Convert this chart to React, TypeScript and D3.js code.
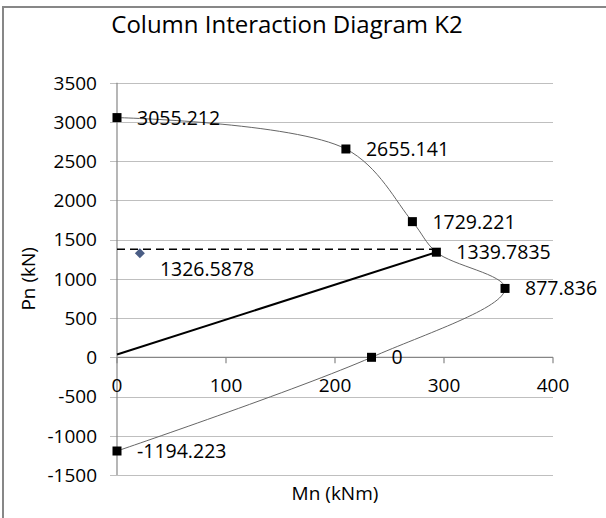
import React from 'react';
import * as d3 from 'd3';

// interaction curve points (Mn kNm, Pn kN)
const curveMn = [0, 210, 271, 293, 356, 233.5, 0];
const curvePn = [3055.212, 2655.141, 1729.221, 1339.7835, 877.836, 0, -1194.223];
const curveLabels = ['3055.212', '2655.141', '1729.221', '1339.7835', '877.836', '0', '-1194.223'];

// eccentricity line from origin area to the balance point
const loadLineMn = [0, 293];
const loadLinePn = [35, 1339.7835];

// dashed level line
const levelMn = [0, 293];
const levelPn = [1378, 1378];

// applied load point
const appliedMn = [21];
const appliedPn = [1326.5878];
const appliedLabels = ['1326.5878'];

const xTicks = [0, 100, 200, 300, 400];
const yTicks = [3500, 3000, 2500, 2000, 1500, 1000, 500, 0, -500, -1000, -1500];

const W = 606, H = 518;
const font = '"Open Sans", "Liberation Sans", sans-serif';

export default function App() {
  const x = d3.scaleLinear().domain([0, 400]).range([117, 553]);
  const y = d3.scaleLinear().domain([-1500, 3500]).range([475, 82.7]);

  const curvePts: [number, number][] = curveMn.map((m, i) => [x(m), y(curvePn[i])]);
  const smooth = d3.line().curve(d3.curveCatmullRom.alpha(0.5))(curvePts) || '';
  const loadLine = d3.line()(loadLineMn.map((m, i) => [x(m), y(loadLinePn[i])] as [number, number])) || '';
  const levelLine = d3.line()(levelMn.map((m, i) => [x(m), y(levelPn[i])] as [number, number])) || '';

  const x0 = x(0), y0 = y(0);

  return (
    <svg width={W} height={H} style={{ position: 'absolute', left: 0, top: 0, background: '#fff' }}>
      {/* chart frame */}
      <rect x={3} y={7} width={W + 20} height={H + 20} fill="#fff" stroke="#878787" strokeWidth={2} />
      <text x={287} y={33} textAnchor="middle" fontFamily={font} fontSize={24} fill="#000">
        Column Interaction Diagram K2
      </text>

      {/* gridlines + y ticks */}
      {yTicks.map(t => (
        <g key={t}>
          <line x1={110} x2={553} y1={Math.round(y(t)) + 0.5} y2={Math.round(y(t)) + 0.5} stroke="#bfbfbf" strokeWidth={1.2} />
          <text x={97} y={y(t)} dy="0.36em" textAnchor="end" fontFamily={font} fontSize={19} fill="#000">{t}</text>
        </g>
      ))}
      {/* y axis */}
      <line x1={x0} x2={x0} y1={y(3500)} y2={y(-1500)} stroke="#868686" strokeWidth={1.2} />
      {/* x axis at 0 */}
      <line x1={x0} x2={553} y1={y0} y2={y0} stroke="#868686" strokeWidth={1.2} />
      {xTicks.map(t => (
        <g key={t}>
          <line x1={x(t)} x2={x(t)} y1={y0} y2={y0 + 6} stroke="#868686" strokeWidth={1.2} />
          <text x={x(t)} y={385} dy="0.36em" textAnchor="middle" fontFamily={font} fontSize={19} fill="#000">{t}</text>
        </g>
      ))}

      {/* axis titles */}
      <text transform={`translate(28,${(y(3500) + y(-1500)) / 2}) rotate(-90)`} dy="0.36em" textAnchor="middle" fontFamily={font} fontSize={19} fill="#000">Pn (kN)</text>
      <text x={(x(0) + x(400)) / 2} y={493} dy="0.36em" textAnchor="middle" fontFamily={font} fontSize={19} fill="#000">Mn (kNm)</text>

      {/* series */}
      <path d={levelLine} fill="none" stroke="#000" strokeWidth={1.5} strokeDasharray="8,5" />
      <path d={loadLine} fill="none" stroke="#000" strokeWidth={2} />
      <path d={smooth} fill="none" stroke="#666" strokeWidth={1} />

      {curvePts.map(([px, py], i) => (
        <g key={i}>
          <rect x={px - 4.5} y={py - 4.5} width={9} height={9} fill="#000" />
          <text x={px + 20} y={py} dy="0.36em" fontFamily={font} fontSize={19.5} fill="#000">{curveLabels[i]}</text>
        </g>
      ))}

      {appliedMn.map((m, i) => {
        const px = x(m), py = y(appliedPn[i]);
        return (
          <g key={i}>
            <path d={`M${px},${py - 5}L${px + 5},${py}L${px},${py + 5}L${px - 5},${py}Z`} fill="#4a5d85" />
            <text x={px + 20} y={py + 16} dy="0.36em" fontFamily={font} fontSize={19.5} fill="#000">{appliedLabels[i]}</text>
          </g>
        );
      })}
    </svg>
  );
}
